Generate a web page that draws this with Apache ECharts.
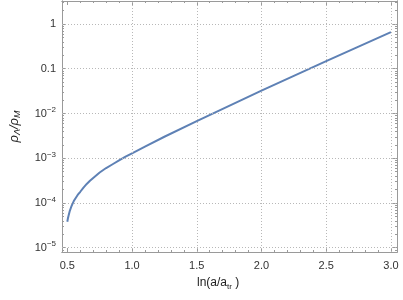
<!DOCTYPE html>
<html>
<head>
<meta charset="utf-8">
<script src="https://cdn.jsdelivr.net/npm/echarts@6/dist/echarts.min.js"></script>
<style>
html,body{margin:0;padding:0;background:#fff;}
#chart{width:403px;height:300px;}
</style>
</head>
<body>
<div id="chart"></div>
<script>
// ln(a/a_tr) values
const xValues = [0.50, 0.505, 0.51, 0.52, 0.53, 0.54, 0.55, 0.56, 0.58, 0.60, 0.625, 0.65, 0.675, 0.70, 0.75, 0.80, 0.85, 0.90, 0.95, 1.00, 1.10, 1.25, 1.50, 1.75, 2.00, 2.25, 2.50, 2.75, 3.00];
// rho_Lambda / rho_M
const ratioValues = [3.80e-5, 4.57e-5, 5.25e-5, 6.76e-5, 8.13e-5, 9.55e-5, 1.10e-4, 1.23e-4, 1.51e-4, 1.78e-4, 2.21e-4, 2.66e-4, 3.13e-4, 3.63e-4, 4.79e-4, 6.03e-4, 7.33e-4, 8.91e-4, 1.08e-3, 1.29e-3, 1.82e-3, 3.02e-3, 6.76e-3, 1.48e-2, 3.24e-2, 6.92e-2, 0.148, 0.313, 0.661];
// axis ticks
const xMajorTicks = [0.5, 1.0, 1.5, 2.0, 2.5, 3.0];
const xMinorTicks = [0.5,0.6,0.7,0.8,0.9,1.0,1.1,1.2,1.3,1.4,1.5,1.6,1.7,1.8,1.9,2.0,2.1,2.2,2.3,2.4,2.5,2.6,2.7,2.8,2.9,3.0];
const xGridLines = [1.0, 1.5, 2.0, 2.5, 3.0];
const yDecadeExponents = [-5, -4, -3, -2, -1, 0];

const X_MIN = 0.459, X_MAX = 3.047;
const Y_MIN = -5.096, Y_MAX = 0.514; // log10 space

const yMinorTicks = [];
for (let e = -6; e <= 0; e++) {
  for (let k = 1; k <= 9; k++) {
    const v = e + Math.log10(k);
    if (v >= Y_MIN && v <= Y_MAX) yMinorTicks.push(v);
  }
}

const lineData = xValues.map((x, i) => [x, Math.log10(ratioValues[i])]);

const frameColor = '#9a9a9a';
const labelFont = 'Liberation Sans, Arial, sans-serif';

function yLabel(v) {
  const r = Math.round(v);
  if (r === 0) return '1';
  if (r === -1) return '0.1';
  return '{b|10}{s|\u2212' + (-r) + '}';
}

function xAxisDef(pos, ticks, len, withLabel) {
  return {
    type: 'value', position: pos, min: X_MIN, max: X_MAX, gridIndex: 0,
    axisLine: {show: true, onZero: false, lineStyle: {color: frameColor, width: 1}},
    axisTick: {show: true, inside: true, length: len, customValues: ticks, lineStyle: {color: frameColor}},
    axisLabel: withLabel ? {
      show: true, customValues: xMajorTicks, margin: 8, fontSize: 11, color: '#333',
      fontFamily: labelFont, formatter: v => v.toFixed(1)
    } : {show: false},
    splitLine: {show: false}
  };
}
function yAxisDef(pos, ticks, len, withLabel) {
  return {
    type: 'value', position: pos, min: Y_MIN, max: Y_MAX, gridIndex: 0,
    axisLine: {show: true, onZero: false, lineStyle: {color: frameColor, width: 1}},
    axisTick: {show: true, inside: true, length: len, customValues: ticks, lineStyle: {color: frameColor}},
    axisLabel: withLabel ? {
      show: true, customValues: yDecadeExponents, margin: 6, fontSize: 11, color: '#333',
      fontFamily: labelFont, formatter: yLabel,
      rich: {
        b: {fontSize: 11, color: '#333', fontFamily: labelFont},
        s: {fontSize: 8, color: '#333', fontFamily: labelFont, padding: [0, 0, 7, 0]}
      }
    } : {show: false},
    splitLine: {show: false}
  };
}

const chart = echarts.init(document.getElementById('chart'), null, {renderer: 'canvas'});
chart.setOption({
  animation: false,
  backgroundColor: '#fff',
  grid: {left: 51, right: 6, top: 1, bottom: 48, containLabel: false},
  xAxis: [
    xAxisDef('bottom', xMajorTicks, 4, true),
    xAxisDef('bottom', xMinorTicks, 2, false),
    xAxisDef('top', xMajorTicks, 4, false),
    xAxisDef('top', xMinorTicks, 2, false)
  ],
  yAxis: [
    Object.assign(yAxisDef('left', yDecadeExponents, 4, true), {
      name: '{i|\u03C1}{sub|\u039B}{i|/\u03C1}{sub|M}',
      nameLocation: 'middle', nameRotate: 90, nameGap: 40,
      nameTextStyle: {
        rich: {
          i: {fontSize: 13, fontStyle: 'italic', color: '#222', fontFamily: labelFont},
          sub: {fontSize: 9, fontStyle: 'italic', color: '#222', fontFamily: labelFont, padding: [6, 0, 0, 0]}
        }
      }
    }),
    yAxisDef('left', yMinorTicks, 2, false),
    yAxisDef('right', yDecadeExponents, 4, false),
    yAxisDef('right', yMinorTicks, 2, false)
  ],
  graphic: [{
    type: 'text', left: 197, top: 277,
    style: {
      text: '{n|ln(a/a}{sub|tr}{n| )}',
      rich: {
        n: {fontSize: 12, fill: '#222', fontFamily: labelFont},
        sub: {fontSize: 8, fill: '#222', fontFamily: labelFont, padding: [7, 0, 0, 0]}
      }
    }
  }],
  series: [
    {
      type: 'line', xAxisIndex: 0, yAxisIndex: 0, data: lineData, z: 1,
      showSymbol: false, silent: true, lineStyle: {opacity: 0},
      markLine: {
        silent: true, symbol: 'none', label: {show: false},
        lineStyle: {color: '#b8b8b8', type: [1, 2], width: 1},
        data: xGridLines.map(v => ({xAxis: v})).concat(yDecadeExponents.map(v => ({yAxis: v})))
      }
    },
    {
      type: 'line', xAxisIndex: 0, yAxisIndex: 0, data: lineData, z: 3,
      showSymbol: false, smooth: false, silent: true,
      lineStyle: {color: '#5E81B5', width: 2}
    }
  ]
});
</script>
</body>
</html>
